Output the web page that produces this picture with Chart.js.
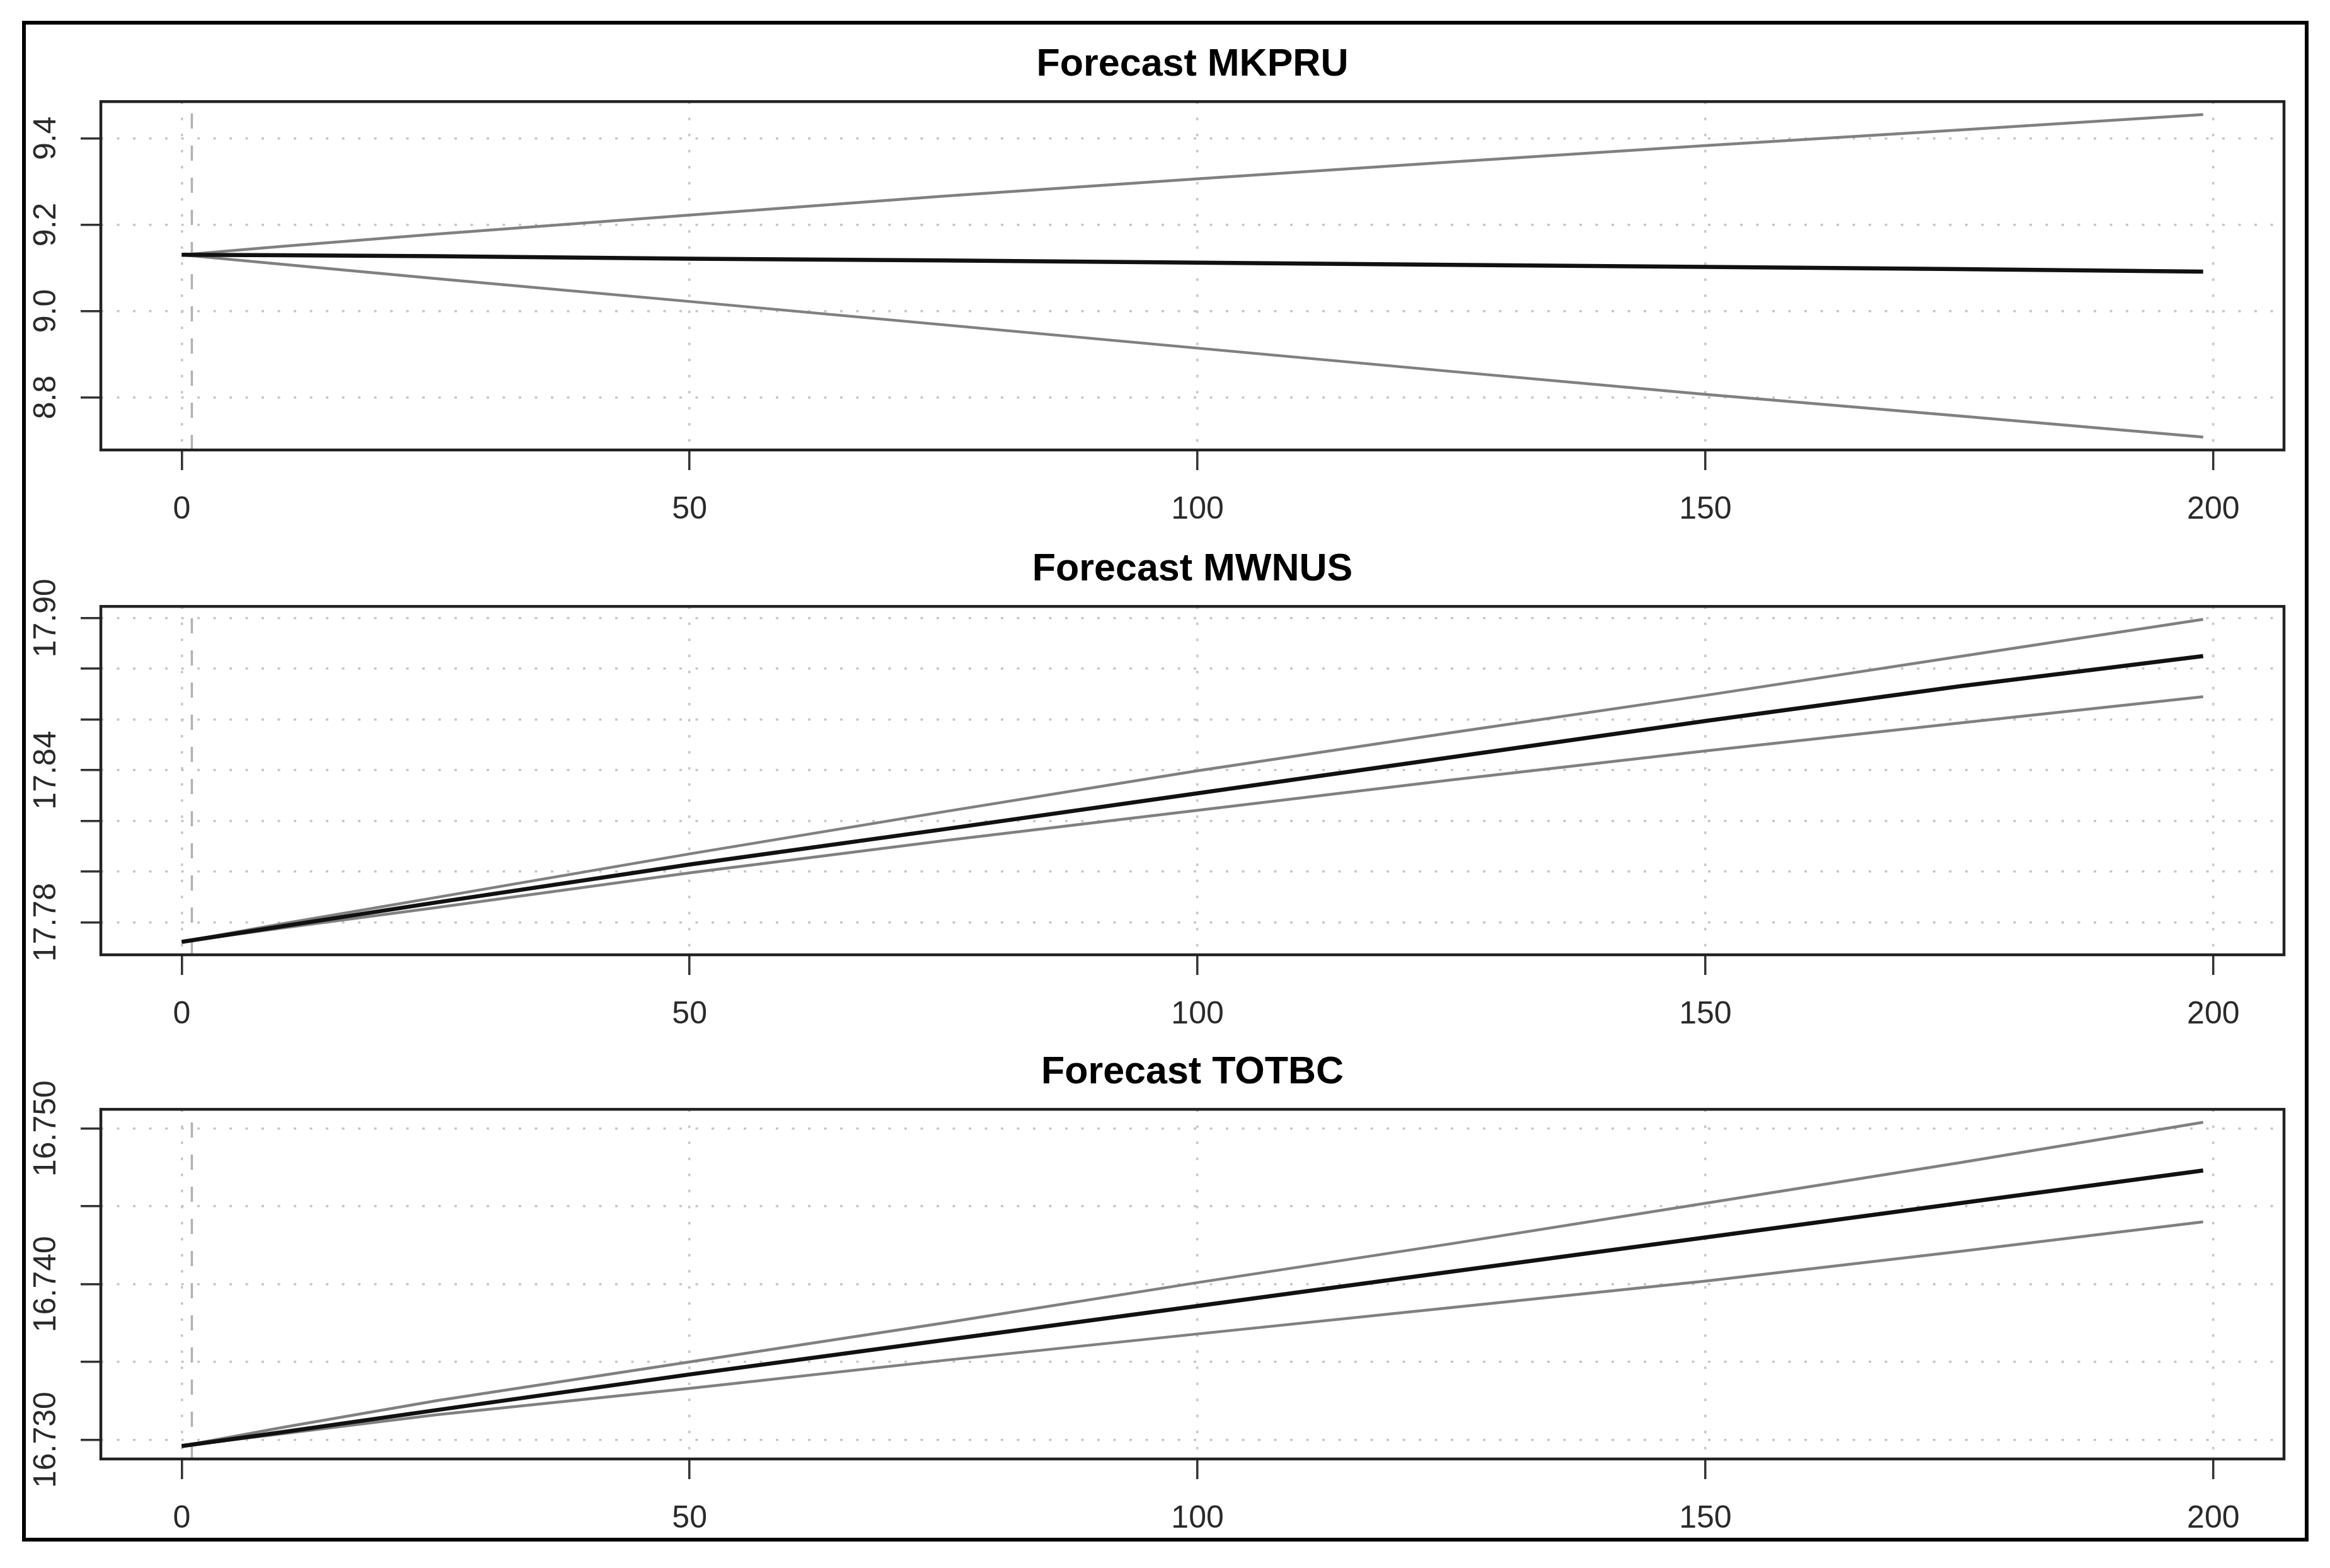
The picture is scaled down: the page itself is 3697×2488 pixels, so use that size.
<!DOCTYPE html>
<html>
<head>
<meta charset="utf-8">
<script src="https://cdn.jsdelivr.net/npm/chart.js@4.4.1/dist/chart.umd.min.js"></script>
<style>
  html, body { margin: 0; padding: 0; background: #fff; }
  body { width: 3697px; height: 2488px; position: relative; overflow: hidden; }
  .frame { position: absolute; left: 35px; top: 33px; width: 3628px; height: 2413px; border: 6px solid #000; box-sizing: border-box; }
  .panel { position: absolute; left: 0; width: 3697px; height: 900px; }
</style>
</head>
<body>
<div class="frame"></div>
<div class="panel" style="top:0px"><canvas id="chart_mkpru"></canvas></div>
<div class="panel" style="top:801px"><canvas id="chart_mwnus"></canvas></div>
<div class="panel" style="top:1599px"><canvas id="chart_totbc"></canvas></div>

<script>
const steps = [0, 10, 25, 50, 75, 100, 125, 150, 175, 199];
const xTicks = [0, 50, 100, 150, 200];
const xLabels = ['0', '50', '100', '150', '200'];
const startLine = 1;   // dashed vertical marker

// MKPRU
const mkpruMean  = [9.130, 9.129, 9.127, 9.121, 9.117, 9.112, 9.107, 9.102, 9.097, 9.091];
const mkpruUpper = [9.130, 9.150, 9.178, 9.222, 9.266, 9.306, 9.345, 9.383, 9.419, 9.455];
const mkpruLower = [9.130, 9.108, 9.075, 9.022, 8.968, 8.914, 8.860, 8.807, 8.757, 8.708];
const mkpruTicks  = [8.8, 9.0, 9.2, 9.4];
const mkpruLabels = ['8.8', '9.0', '9.2', '9.4'];

// MWNUS
const mwnusMean  = [17.7723, 17.7785, 17.7878, 17.8028, 17.8167, 17.8309, 17.8451, 17.8594, 17.8731, 17.8850];
const mwnusUpper = [17.7723, 17.7795, 17.7898, 17.8070, 17.8236, 17.8398, 17.8548, 17.8695, 17.8848, 17.8995];
const mwnusLower = [17.7723, 17.7778, 17.7858, 17.7995, 17.8122, 17.8242, 17.8362, 17.8476, 17.8586, 17.8690];
const mwnusTicks  = [17.78, 17.80, 17.82, 17.84, 17.86, 17.88, 17.90];
const mwnusLabels = ['17.78', '', '', '17.84', '', '', '17.90'];

// TOTBC
const totbcMean  = [16.7296, 16.7305, 16.7319, 16.7342, 16.7364, 16.7386, 16.7408, 16.7430, 16.7452, 16.7473];
const totbcUpper = [16.7296, 16.7308, 16.7325, 16.7350, 16.7375, 16.7401, 16.7426, 16.7452, 16.7478, 16.7504];
const totbcLower = [16.7296, 16.7304, 16.7316, 16.7333, 16.7351, 16.7368, 16.7385, 16.7402, 16.7421, 16.7440];
const totbcTicks  = [16.730, 16.735, 16.740, 16.745, 16.750];
const totbcLabels = ['16.730', '', '16.740', '', '16.750'];

const FONT = 'Liberation Sans';
const LABEL_SIZE = 50;
Chart.defaults.font.family = FONT;

// R style box around the plot region
const plotBox = {
    id: 'plotBox',
    afterDatasetsDraw(chart) {
        const { ctx, chartArea: a } = chart;
        ctx.save();
        ctx.strokeStyle = '#222';
        ctx.lineWidth = 4.5;
        ctx.strokeRect(a.left, a.top, a.right - a.left, a.bottom - a.top);
        ctx.restore();
    }
};

function grid_opts() {
    return { color: '#c6c6c6', lineWidth: 3.5, tickColor: '#333', tickWidth: 3.5, tickLength: 32, tickBorderDash: [] };
}

function forecast_chart(id, title, mean, upper, lower, yTicks, yLabels, plotHeight)
{
    // 4% padding like R does
    const all = mean.concat(upper, lower);
    const lo = Math.min(...all), hi = Math.max(...all);
    const yMin = lo - (hi - lo) * 0.04, yMax = hi + (hi - lo) * 0.04;
    const xPad = (steps[steps.length - 1] - steps[0]) * 0.04;

    const pts = arr => steps.map((s, i) => ({ x: s, y: arr[i] }));

    // rotated y labels: push their centres to ~74px from the page edge
    const m = document.createElement('canvas').getContext('2d');
    m.font = LABEL_SIZE + 'px "' + FONT + '"';
    const widest = Math.max(...yLabels.map(l => m.measureText(l).width));
    const yPad = 54 - widest / 2;

    new Chart(document.getElementById(id), {
        type: 'line',
        data: {
            datasets: [
                { data: pts(mean),  borderColor: '#111', borderWidth: 6.5 },
                { data: pts(upper), borderColor: '#808080', borderWidth: 4.5 },
                { data: pts(lower), borderColor: '#808080', borderWidth: 4.5 },
                { data: [{ x: startLine, y: yMin }, { x: startLine, y: yMax }],
                  borderColor: '#b0b0b0', borderWidth: 3.5, borderDash: [24, 27] }
            ]
        },
        options: {
            responsive: true,
            maintainAspectRatio: false,
            animation: false,
            elements: { point: { radius: 0 }, line: { tension: 0 } },
            layout: { padding: { left: 0, right: 73, top: 0, bottom: 0 } },
            plugins: {
                legend: { display: false },
                tooltip: { enabled: false },
                title: {
                    display: true, text: title, fullSize: false, color: '#000',
                    font: { size: 61, weight: 'bold', lineHeight: 1.2 },
                    padding: { top: 67, bottom: 21 }
                }
            },
            scales: {
                x: {
                    type: 'linear',
                    min: steps[0] - xPad,
                    max: steps[steps.length - 1] + xPad,
                    afterBuildTicks: s => { s.ticks = xTicks.map(v => ({ value: v })); },
                    afterFit: s => { s.height = 900 - 160 - plotHeight; },
                    grid: grid_opts(),
                    border: { display: false, dash: [4, 21.5] },
                    ticks: {
                        autoSkip: false, maxRotation: 0, padding: 33, color: '#2a2a2a',
                        font: { size: LABEL_SIZE },
                        callback: (v, i) => xLabels[i]
                    }
                },
                y: {
                    min: yMin,
                    max: yMax,
                    afterBuildTicks: s => { s.ticks = yTicks.map(v => ({ value: v })); },
                    afterFit: s => { s.width = 160; },
                    grid: grid_opts(),
                    border: { display: false, dash: [4, 21.5] },
                    ticks: {
                        autoSkip: false, minRotation: 90, maxRotation: 90,
                        crossAlign: 'center', padding: yPad, color: '#2a2a2a',
                        font: { size: LABEL_SIZE },
                        callback: (v, i) => yLabels[i]
                    }
                }
            }
        },
        plugins: [plotBox]
    });
}

forecast_chart('chart_mkpru', 'Forecast MKPRU', mkpruMean, mkpruUpper, mkpruLower, mkpruTicks, mkpruLabels, 554);
forecast_chart('chart_mwnus', 'Forecast MWNUS', mwnusMean, mwnusUpper, mwnusLower, mwnusTicks, mwnusLabels, 554);
forecast_chart('chart_totbc', 'Forecast TOTBC', totbcMean, totbcUpper, totbcLower, totbcTicks, totbcLabels, 556);
</script>
</body>
</html>
